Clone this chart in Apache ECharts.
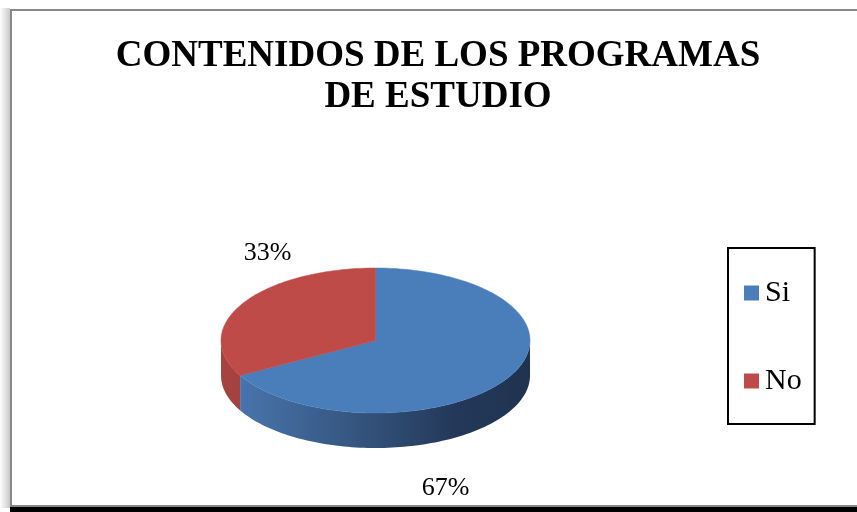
<!DOCTYPE html>
<html>
<head>
<meta charset="utf-8">
<script src="https://cdn.jsdelivr.net/npm/echarts@6/dist/echarts.min.js"></script>
<style>
  html, body { margin: 0; padding: 0; background: #ffffff; }
  #chart { width: 857px; height: 512px; }
</style>
</head>
<body>
<div id="chart"></div>
<script>
// Survey answers and their shares
const categories = ['Si', 'No'];
const values = [67, 33];

// Styling for each slice: top face colour and side-wall gradient stops
const topColors = ['#4a7ebb', '#be4b48'];
const sideStops = [
  ['#4b79b3', '#34547d', '#24395a', '#1f3350'],
  ['#a64341', '#9c3c3a', '#8c3432', '#7f2e2c']
];

// Pie layout (pixels)
const PIE = { cx: 375.5, cy: 340.5, rx: 154.5, ry: 72.5, depth: 35 };
// Where the percentage labels sit, relative to the pie centre
const labelOffsets = [[70, 148], [-108, -87]];

const FONT = '"Liberation Serif", "Times New Roman", serif';
const total = values.reduce((a, b) => a + b, 0);

// Slice angle ranges (degrees, counter-clockwise, 0 = 3 o'clock),
// starting at 12 o'clock and running clockwise like a spreadsheet pie.
function sliceRange(idx) {
  let acc = 0;
  for (let i = 0; i < idx; i++) acc += values[i];
  const end = 90 - (acc / total) * 360;
  const start = end - (values[idx] / total) * 360;
  return [start, end];
}

function ellPoint(tDeg, dy) {
  const t = tDeg * Math.PI / 180;
  return [PIE.cx + PIE.rx * Math.cos(t), PIE.cy - PIE.ry * Math.sin(t) + (dy || 0)];
}

function arcPoints(a, b, dy) {
  const pts = [];
  const n = Math.max(8, Math.ceil(Math.abs(b - a) / 1.5));
  for (let i = 0; i <= n; i++) pts.push(ellPoint(a + (b - a) * i / n, dy));
  return pts;
}

// One series per answer so the legend lists them; each draws its own slice.
function renderItem(params, api) {
  const idx = params.seriesIndex;
  const [s, e] = sliceRange(idx);
  const children = [];

  // Front-facing side wall (angles where the rim faces the viewer)
  for (let k = -2; k <= 1; k++) {
    const f0 = -180 + 360 * k, f1 = 360 * k;
    const a = Math.max(s, f0), b = Math.min(e, f1);
    if (b > a) {
      const top = arcPoints(a, b, 0);
      const bottom = arcPoints(b, a, PIE.depth);
      const stops = sideStops[idx];
      children.push({
        type: 'polygon',
        shape: { points: top.concat(bottom) },
        style: {
          fill: new echarts.graphic.LinearGradient(PIE.cx - PIE.rx, 0, PIE.cx + PIE.rx, 0, [
            { offset: 0, color: stops[0] },
            { offset: 0.45, color: stops[1] },
            { offset: 0.75, color: stops[2] },
            { offset: 1, color: stops[3] }
          ], true),
          stroke: null
        },
        z2: 1
      });
    }
  }

  // Top face
  children.push({
    type: 'polygon',
    shape: { points: [[PIE.cx, PIE.cy]].concat(arcPoints(s, e, 0)) },
    style: { fill: topColors[idx], stroke: topColors[idx], lineWidth: 0.5 },
    z2: 2
  });

  // Percentage label
  const pct = Math.round(api.value(0) / total * 100) + '%';
  children.push({
    type: 'text',
    style: {
      text: pct,
      x: PIE.cx + labelOffsets[idx][0],
      y: PIE.cy + labelOffsets[idx][1],
      align: 'center',
      verticalAlign: 'middle',
      fontFamily: FONT,
      fontSize: 26,
      fill: '#000000'
    },
    z2: 3
  });

  return { type: 'group', children };
}

const chart = echarts.init(document.getElementById('chart'), null, { renderer: 'canvas' });

chart.setOption({
  animation: false,
  backgroundColor: '#ffffff',
  color: topColors,
  title: {
    text: 'CONTENIDOS DE LOS PROGRAMAS\nDE ESTUDIO',
    left: 438,
    top: 36,
    textAlign: 'center',
    padding: 0,
    textStyle: {
      fontFamily: FONT,
      fontSize: 37,
      fontWeight: 'bold',
      lineHeight: 41,
      color: '#000000'
    }
  },
  legend: {
    orient: 'vertical',
    left: 728,
    top: 248,
    data: categories,
    icon: 'rect',
    itemWidth: 15,
    itemHeight: 15,
    itemGap: 58,
    padding: [30, 13, 28, 16],
    borderColor: '#000000',
    borderWidth: 2,
    textStyle: { fontFamily: FONT, fontSize: 30, lineHeight: 30, color: '#000000', padding: [0, 0, 0, 1] }
  },
  graphic: [
    // shadow strip on the left of the frame
    {
      type: 'rect', shape: { x: 0, y: 8, width: 10, height: 500 },
      style: { fill: new echarts.graphic.LinearGradient(0, 0, 1, 0, [
        { offset: 0, color: '#ffffff' }, { offset: 1, color: '#c8c8c8' }]) },
      z: -2
    },
    // dark band below the frame
    { type: 'rect', shape: { x: 10, y: 507, width: 857, height: 5 }, style: { fill: '#000000' }, z: -2 },
    // chart frame
    {
      type: 'rect', shape: { x: 11, y: 10, width: 870, height: 496 },
      style: { fill: '#ffffff', stroke: '#888888', lineWidth: 2 },
      z: -1
    }
  ],
  series: categories.map((c, i) => ({
    name: c,
    type: 'custom',
    coordinateSystem: 'none',
    itemStyle: { color: topColors[i] },
    renderItem: renderItem,
    data: [values[i]]
  }))
});
</script>
</body>
</html>
